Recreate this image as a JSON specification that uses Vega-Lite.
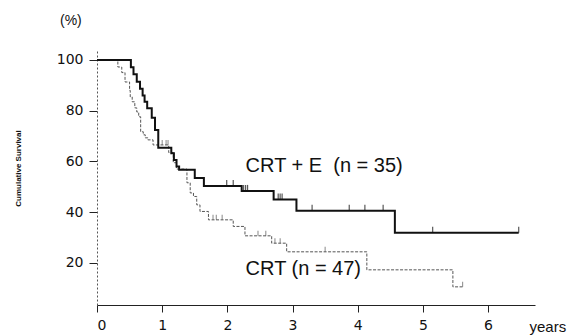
{
  "$schema": "https://vega.github.io/schema/vega-lite/v6.json",
  "width": 438,
  "height": 255,
  "autosize": {"type": "none"},
  "padding": {"left": 97, "top": 50, "right": 41, "bottom": 30},
  "background": "white",
  "title": {"text": "(%)", "anchor": "start", "frame": "group", "dx": -37, "offset": 22, "fontSize": 14, "font": "Liberation Sans", "fontWeight": "normal", "color": "#111"},
  "config": {
    "view": {"stroke": null},
    "axis": {"grid": false, "labelFont": "DejaVu Sans", "labelColor": "#111", "tickColor": "#222", "domainColor": "#222"}
  },
  "datasets": {
    "crte": [
      {"t": 0, "s": 100}, {"t": 0.52, "s": 97.1}, {"t": 0.56, "s": 94.3}, {"t": 0.61, "s": 91.4},
      {"t": 0.66, "s": 88.6}, {"t": 0.70, "s": 86.0}, {"t": 0.73, "s": 83.5}, {"t": 0.77, "s": 81.0},
      {"t": 0.84, "s": 77.2}, {"t": 0.89, "s": 72.4}, {"t": 0.94, "s": 65.4}, {"t": 1.14, "s": 63.2},
      {"t": 1.18, "s": 60.6}, {"t": 1.22, "s": 58.0}, {"t": 1.26, "s": 56.7}, {"t": 1.50, "s": 53.5},
      {"t": 1.64, "s": 50.3}, {"t": 2.22, "s": 48.4}, {"t": 2.71, "s": 45.0}, {"t": 3.06, "s": 40.6},
      {"t": 4.57, "s": 31.9}, {"t": 6.47, "s": 31.9}
    ],
    "crteCens": [
      {"t": 1.99, "s": 50.3}, {"t": 2.09, "s": 50.3}, {"t": 2.25, "s": 48.4}, {"t": 2.28, "s": 48.4},
      {"t": 2.31, "s": 48.4}, {"t": 2.78, "s": 45.0}, {"t": 2.81, "s": 45.0}, {"t": 2.84, "s": 45.0},
      {"t": 3.30, "s": 40.6}, {"t": 3.87, "s": 40.6}, {"t": 4.11, "s": 40.6}, {"t": 4.39, "s": 40.6},
      {"t": 5.15, "s": 31.9}, {"t": 6.47, "s": 31.9}
    ],
    "crt": [
      {"t": 0, "s": 100}, {"t": 0.32, "s": 97.2}, {"t": 0.38, "s": 95.0}, {"t": 0.43, "s": 91.3},
      {"t": 0.50, "s": 88.0}, {"t": 0.51, "s": 85.4}, {"t": 0.54, "s": 83.5}, {"t": 0.58, "s": 81.1},
      {"t": 0.61, "s": 79.5}, {"t": 0.64, "s": 77.6}, {"t": 0.67, "s": 71.7}, {"t": 0.71, "s": 70.5},
      {"t": 0.74, "s": 69.3}, {"t": 0.78, "s": 68.5}, {"t": 0.86, "s": 66.5}, {"t": 1.10, "s": 63.5},
      {"t": 1.17, "s": 59.5}, {"t": 1.22, "s": 57.0}, {"t": 1.38, "s": 51.6}, {"t": 1.43, "s": 47.6},
      {"t": 1.48, "s": 46.2}, {"t": 1.53, "s": 42.9}, {"t": 1.58, "s": 40.3}, {"t": 1.71, "s": 37.0},
      {"t": 2.09, "s": 34.4}, {"t": 2.27, "s": 30.7}, {"t": 2.68, "s": 27.8}, {"t": 2.91, "s": 24.4},
      {"t": 4.14, "s": 17.3}, {"t": 5.46, "s": 10.6}, {"t": 5.61, "s": 10.6}
    ],
    "crtCens": [
      {"t": 1.00, "s": 66.5}, {"t": 1.06, "s": 66.5}, {"t": 1.09, "s": 66.5}, {"t": 1.78, "s": 37.0},
      {"t": 1.83, "s": 37.0}, {"t": 1.92, "s": 37.0}, {"t": 2.47, "s": 30.7}, {"t": 2.59, "s": 30.7},
      {"t": 2.73, "s": 27.8}, {"t": 2.81, "s": 27.8}, {"t": 3.50, "s": 24.4}, {"t": 5.61, "s": 10.6}
    ],
    "labels": [
      {"t": 2.28, "s": 58.3, "txt": "CRT + E\u00a0 (n = 35)"},
      {"t": 2.28, "s": 17.7, "txt": "CRT (n = 47)"}
    ]
  },
  "encoding": {
    "x": {"field": "t", "type": "quantitative",
      "scale": {"domain": [0, 6.72], "nice": false, "zero": false},
      "axis": {"values": [0, 1, 2, 3, 4, 5, 6], "tickSize": 7, "labelPadding": 6, "labelFontSize": 14,
        "title": "years", "titleFont": "Liberation Sans", "titleFontSize": 15, "titleFontWeight": "normal",
        "titleAngle": 0, "titleAlign": "left", "titleBaseline": "alphabetic", "titleX": 432, "titleY": 26, "titleColor": "#111"}},
    "y": {"field": "s", "type": "quantitative",
      "scale": {"domain": [3.45, 103.9], "nice": false, "zero": false},
      "axis": {"values": [20, 40, 60, 80, 100], "tickSize": 8, "labelPadding": 6, "labelFontSize": 14,
        "domainDash": [2, 2], "domainColor": "#555",
        "title": "Cumulative Survival", "titleFont": "Liberation Sans", "titleFontSize": 8, "titleFontWeight": "bold",
        "titleX": -79, "titleY": 118, "titleAlign": "center", "titleBaseline": "middle", "titleColor": "#111"}}
  },
  "layer": [
    {"data": {"name": "crt"}, "mark": {"type": "line", "interpolate": "step-after", "color": "#555", "strokeWidth": 1, "strokeDash": [3, 1.5]}},
    {"data": {"name": "crtCens"}, "mark": {"type": "tick", "orient": "vertical", "size": 5, "thickness": 1, "yOffset": -2.5, "color": "#555"}},
    {"data": {"name": "crte"}, "mark": {"type": "line", "interpolate": "step-after", "color": "#111", "strokeWidth": 2}},
    {"data": {"name": "crteCens"}, "mark": {"type": "tick", "orient": "vertical", "size": 6, "thickness": 1.2, "yOffset": -3, "color": "#111"}},
    {"data": {"name": "labels"}, "mark": {"type": "text", "align": "left", "baseline": "middle", "font": "Liberation Sans", "fontSize": 20, "color": "#111"},
      "encoding": {"text": {"field": "txt"}}}
  ]
}
